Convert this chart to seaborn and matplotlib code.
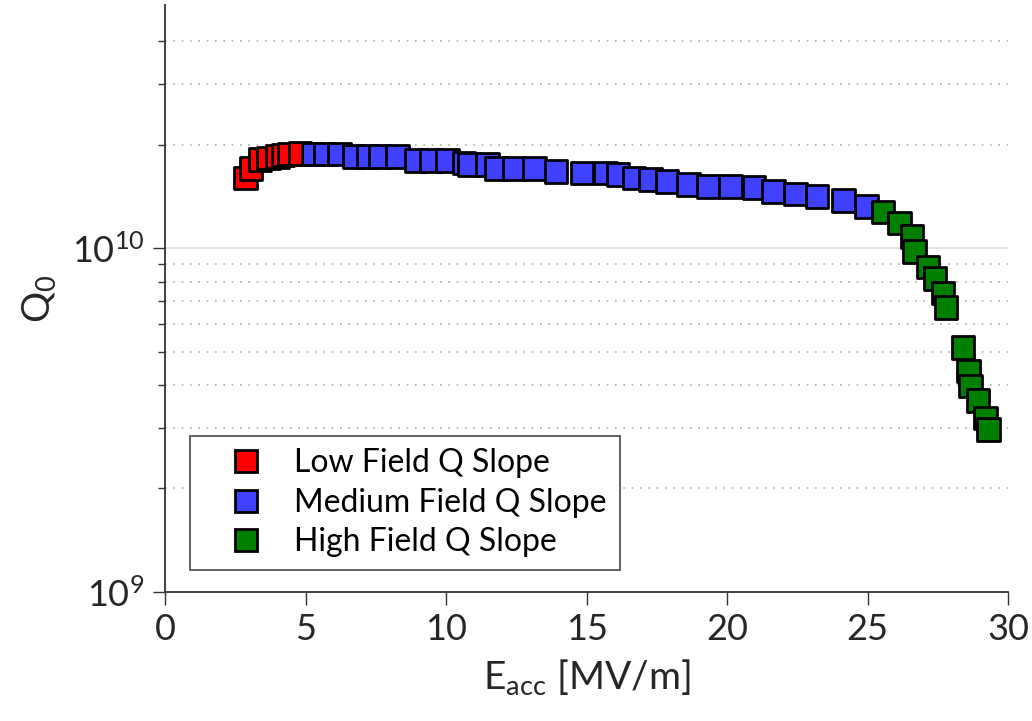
import numpy as np
import pandas as pd
import seaborn as sns
import matplotlib.pyplot as plt
from matplotlib.ticker import FixedLocator, NullFormatter

# data
low_e = [2.85, 3.06, 3.38, 3.67, 3.99, 4.20, 4.41, 4.80]
low_q = [1.60, 1.705, 1.81, 1.83, 1.85, 1.87, 1.88, 1.89]

med_e = [5.26, 5.69, 6.20, 6.72, 7.23, 7.65, 8.26, 8.93, 9.47, 10.04,
         10.63, 10.83, 11.48, 11.78, 12.43, 13.14, 13.91, 14.83, 15.66, 16.11,
         16.68, 17.27, 17.86, 18.62, 19.31, 20.12, 20.95, 21.65, 22.42, 23.20,
         24.14, 24.95]
med_q = [1.88, 1.88, 1.88, 1.85, 1.85, 1.85, 1.85, 1.80, 1.80, 1.80,
         1.77, 1.75, 1.75, 1.705, 1.705, 1.705, 1.675, 1.655, 1.655, 1.64,
         1.60, 1.585, 1.565, 1.53, 1.515, 1.515, 1.505, 1.465, 1.44, 1.415,
         1.375, 1.325]

high_e = [25.54, 26.13, 26.58, 26.67, 27.14, 27.40, 27.68, 27.79, 28.39, 28.59,
          28.66, 28.92, 29.18, 29.30]
high_q = [1.275, 1.185, 1.083, 0.980, 0.881, 0.816, 0.741, 0.671, 0.515, 0.439,
          0.397, 0.361, 0.321, 0.297]

labels = ['Low Field Q Slope', 'Medium Field Q Slope', 'High Field Q Slope']
colors = ['#ff0000', '#4040ff', '#007f00']

df = pd.concat([
    pd.DataFrame({'E': low_e, 'Q': np.array(low_q) * 1e10, 'regime': labels[0]}),
    pd.DataFrame({'E': med_e, 'Q': np.array(med_q) * 1e10, 'regime': labels[1]}),
    pd.DataFrame({'E': high_e, 'Q': np.array(high_q) * 1e10, 'regime': labels[2]}),
])

sns.set_style('white')
plt.rcParams['font.family'] = ['Lato', 'DejaVu Sans']
plt.rcParams['mathtext.fontset'] = 'custom'
plt.rcParams['mathtext.rm'] = 'Lato'
plt.rcParams['mathtext.it'] = 'Lato'
txt = '#262626'

fig = plt.figure(figsize=(10.32, 7.21), dpi=100)
ax = fig.add_axes([0.16, 0.179, 0.817, 0.814])

sns.scatterplot(data=df, x='E', y='Q', hue='regime', palette=colors,
                marker='s', s=265, edgecolor='black', linewidth=2,
                ax=ax, zorder=3)

ax.set_yscale('log')
ax.set_xlim(0, 30)
ax.set_ylim(1e9, 5.1e10)

# ticks
ax.set_xticks([0, 5, 10, 15, 20, 25, 30])
ax.set_yticks([1e9, 1e10])
ax.set_yticklabels(['$10^{9}$', '$10^{10}$'])
minor = [k * 1e9 for k in range(2, 10)] + [k * 1e10 for k in range(2, 5)]
ax.yaxis.set_minor_locator(FixedLocator(minor))
ax.yaxis.set_minor_formatter(NullFormatter())
ax.tick_params(axis='both', which='major', direction='out', length=9, width=1.0,
               color='#333333', labelsize=26, labelcolor=txt, pad=6)
ax.tick_params(axis='y', which='minor', direction='out', length=5, width=1.0,
               color='#333333', left=True)
ax.tick_params(axis='x', which='major', bottom=True)
ax.tick_params(axis='y', which='major', left=True)

# grid
ax.grid(False)
ax.yaxis.grid(True, which='minor', linestyle=(0, (1, 4)), color='#b0b0b0', linewidth=1.2)
ax.axhline(1e10, color='#e3e3e3', linewidth=1.5, zorder=0)

for side in ['top', 'right']:
    ax.spines[side].set_visible(False)
for side in ['left', 'bottom']:
    ax.spines[side].set_color('#333333')
    ax.spines[side].set_linewidth(1.3)

ax.set_xlabel('E$_{\\mathrm{acc}}$ [MV/m]', fontsize=28, color=txt, labelpad=8)
ax.set_ylabel('Q$_{0}$', fontsize=28, color=txt, labelpad=10)

handles, lbls = ax.get_legend_handles_labels()
leg = ax.legend(handles, lbls, loc='lower left', bbox_to_anchor=(0.03, 0.037),
                fontsize=23, frameon=True, fancybox=False, edgecolor='#444444',
                framealpha=1, borderpad=0.4, handlelength=2.7, handletextpad=0.15,
                labelspacing=0.3, markerscale=0.95, borderaxespad=0)
leg.get_frame().set_linewidth(1.2)
for t in leg.get_texts():
    t.set_color('black')

fig.savefig('out.png', dpi=100)
